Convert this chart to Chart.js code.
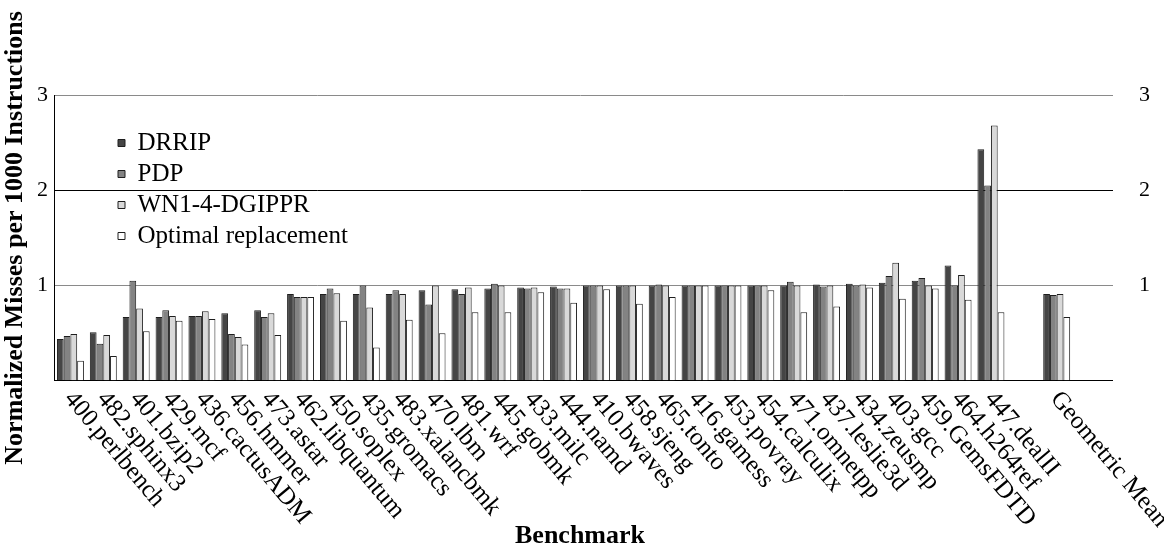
<!DOCTYPE html>
<html lang="en">
<head>
<meta charset="utf-8">
<style>
  html, body { margin: 0; padding: 0; background: #fff; }
  #wrap { width: 1164px; height: 552px; }
</style>
</head>
<body>
<div id="wrap"><canvas id="myChart" width="1164" height="552"></canvas></div>
<script src="https://cdn.jsdelivr.net/npm/chart.js"></script>
<script>
// benchmarks, with an empty slot before and after the geometric mean
const benchmarks = ['400.perlbench', '482.sphinx3', '401.bzip2', '429.mcf', '436.cactusADM', '456.hmmer',
  '473.astar', '462.libquantum', '450.soplex', '435.gromacs', '483.xalancbmk', '470.lbm', '481.wrf',
  '445.gobmk', '433.milc', '444.namd', '410.bwaves', '458.sjeng', '465.tonto', '416.gamess', '453.povray',
  '454.calculix', '471.omnetpp', '437.leslie3d', '434.zeusmp', '403.gcc', '459.GemsFDTD', '464.h264ref',
  '447.dealII', '', 'Geometric Mean', ''];

const drrip = [0.44, 0.51, 0.67, 0.67, 0.68, 0.71, 0.74, 0.91, 0.91, 0.91, 0.91, 0.95, 0.96, 0.97, 0.98,
  0.99, 1.0, 1.0, 1.0, 1.0, 1.0, 1.0, 1.0, 1.01, 1.02, 1.03, 1.05, 1.21, 2.43, null, 0.91, null];
const pdp = [0.47, 0.39, 1.05, 0.74, 0.68, 0.49, 0.67, 0.88, 0.97, 1.0, 0.95, 0.80, 0.91, 1.02, 0.97,
  0.97, 1.0, 1.0, 1.01, 1.0, 1.0, 1.0, 1.04, 0.99, 1.0, 1.10, 1.08, 1.0, 2.05, null, 0.90, null];
const wn1 = [0.49, 0.48, 0.76, 0.68, 0.73, 0.46, 0.71, 0.88, 0.92, 0.77, 0.91, 1.0, 0.98, 1.0, 0.98,
  0.97, 1.0, 1.0, 1.0, 1.0, 1.0, 1.0, 1.0, 1.0, 1.01, 1.24, 1.0, 1.11, 2.68, null, 0.91, null];
const optimal = [0.21, 0.26, 0.52, 0.63, 0.65, 0.38, 0.48, 0.88, 0.63, 0.35, 0.64, 0.50, 0.72, 0.72, 0.93,
  0.82, 0.96, 0.81, 0.88, 1.0, 1.0, 0.95, 0.72, 0.78, 0.98, 0.86, 0.97, 0.85, 0.72, null, 0.67, null];

const yTicks = [1, 2, 3];

const serif = "'Liberation Serif', 'Times New Roman', serif";
Chart.defaults.font.family = serif;
Chart.defaults.color = '#000';

// category labels slant down to the right, starting under each group
const slantLabels = {
  id: 'slantLabels',
  afterDraw(chart) {
    const xs = chart.scales.x;
    const ctx = chart.ctx;
    ctx.save();
    ctx.font = '25px ' + serif;
    ctx.fillStyle = '#000';
    ctx.textAlign = 'left';
    ctx.textBaseline = 'middle';
    benchmarks.forEach((name, i) => {
      if (!name) return;
      ctx.save();
      ctx.translate(xs.getPixelForValue(i) - 2, xs.top + 14);
      ctx.rotate(50 * Math.PI / 180);
      ctx.fillText(name, 0, 0);
      ctx.restore();
    });
    ctx.restore();
  }
};

// legend sits inside the plot, in from the top left corner
const moveLegend = {
  id: 'moveLegend',
  afterLayout(chart) {
    const lg = chart.legend;
    const w = lg.right - lg.left, h = lg.bottom - lg.top;
    lg.left = chart.chartArea.left + 58;
    lg.top = chart.chartArea.top + 29.5;
    lg.right = lg.left + w;
    lg.bottom = lg.top + h;
  }
};

const tickOpts = (pad) => ({
  stepSize: 1,
  padding: pad,
  font: { size: 22 },
  color: '#000',
  callback: v => yTicks.includes(v) ? String(v) : ''
});

const gridColor = c => (c.tick.value === 2 || c.tick.value === 0) ? '#000' : '#8a8a8a';

const barStyle = { borderColor: '#1e1e1e', borderWidth: 1, categoryPercentage: 0.82, barPercentage: 1.0 };

const data = {
  labels: benchmarks,
  datasets: [
    { label: 'DRRIP', data: drrip, backgroundColor: '#454545', ...barStyle },
    { label: 'PDP', data: pdp, backgroundColor: '#838383', ...barStyle },
    { label: 'WN1-4-DGIPPR', data: wn1, backgroundColor: '#d9d9d9', ...barStyle },
    { label: 'Optimal replacement', data: optimal, backgroundColor: '#ffffff', ...barStyle }
  ]
};

const config = {
  type: 'bar',
  data: data,
  options: {
    responsive: false,
    animation: false,
    layout: { padding: { left: 0, right: 0, top: 95, bottom: 0 } },
    plugins: {
      legend: {
        position: 'chartArea',
        align: 'start',
        labels: { boxWidth: 7, boxHeight: 7, padding: 6, color: '#000', font: { size: 25 } }
      },
      tooltip: { enabled: false }
    },
    scales: {
      x: {
        offset: true,
        grid: { display: false, drawTicks: false },
        border: { display: true, color: '#000', width: 1 },
        ticks: { display: false },
        title: {
          display: true, text: 'Benchmark', color: '#000',
          font: { size: 26, weight: 'bold' },
          padding: { top: 140, bottom: 0 }
        }
      },
      y: {
        position: 'left',
        min: 0, max: 3,
        ticks: tickOpts(6),
        grid: { drawTicks: false, lineWidth: 1, color: gridColor },
        border: { display: true, color: '#000', width: 1 },
        title: {
          display: true, text: 'Normalized Misses per 1000 Instructions', color: '#000',
          font: { size: 26, weight: 'bold' },
          padding: { top: 0, bottom: 6 }
        },
        afterFit: s => { s.width = 54; }
      },
      y2: {
        position: 'right',
        min: 0, max: 3,
        ticks: tickOpts(26),
        // short tick marks carry the grid lines a little past the last group
        grid: { drawOnChartArea: false, drawTicks: true, tickLength: 7, lineWidth: 1, color: gridColor },
        border: { display: false },
        afterFit: s => { s.width = 58; }
      }
    }
  },
  plugins: [slantLabels, moveLegend]
};

const myChart = new Chart(document.getElementById('myChart'), config);
</script>
</body>
</html>
